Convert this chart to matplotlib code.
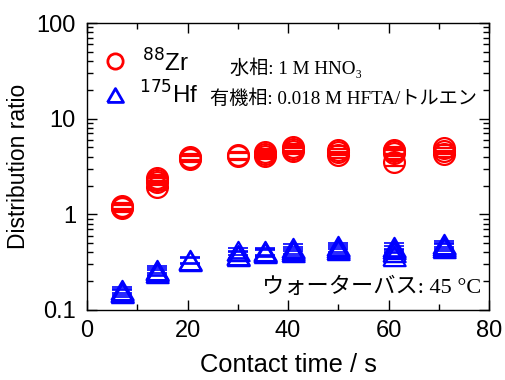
import numpy as np
import matplotlib
matplotlib.use("Agg")
import matplotlib.pyplot as plt

# contact time (s) and repeated runs at each time
times = [7, 14, 20.5, 30, 35.5, 41, 50, 61, 71]
zr_D = [[1.16, 1.20, 1.23],
        [1.95, 2.20, 2.30, 2.40],
        [3.80, 3.90, 4.00],
        [4.05, 4.15],
        [4.10, 4.30, 4.50],
        [4.60, 4.80, 5.00],
        [4.20, 4.50, 4.75],
        [3.50, 4.40, 4.60, 4.70],
        [4.30, 4.60, 4.90]]
hf_D = [[0.150, 0.155, 0.162],
        [0.245, 0.255, 0.265],
        [0.325, 0.335],
        [0.37, 0.38, 0.41],
        [0.39, 0.40, 0.41],
        [0.40, 0.42, 0.45],
        [0.42, 0.44, 0.47],
        [0.37, 0.40, 0.43, 0.46],
        [0.45, 0.47, 0.49]]
rel_err = 0.08

W, H = 505, 380
fig = plt.figure(figsize=(W / 100, H / 100), dpi=100)
ax = fig.add_axes([87 / W, 1 - 310 / H, (489 - 87) / W, (310 - 23) / H])

tri = [(-1, -0.866), (1, -0.866), (0, 0.866), (-1, -0.866)]

def flat(t, runs):
    x = []
    y = []
    for ti, r in zip(t, runs):
        for v in r:
            x.append(ti)
            y.append(v)
    return np.array(x), np.array(y)

xz, yz = flat(times, zr_D)
xh, yh = flat(times, hf_D)

ax.errorbar(xz, yz, yerr=rel_err * yz, fmt='o', ms=15, mfc='none', mec='red',
            mew=1.6, ecolor='red', elinewidth=0, capsize=7, capthick=1.2)
ax.errorbar(xh, yh, yerr=rel_err * yh, fmt='none', ecolor='blue', elinewidth=0,
            capsize=7.5, capthick=1.2)
ax.plot(xh, yh, ls='none', marker=tri, ms=16, mfc='none', mec='blue', mew=1.6)

ax.set_yscale('log')
ax.set_xlim(0, 80)
ax.set_ylim(0.1, 100)
ax.set_xticks([0, 20, 40, 60, 80])
ax.set_xticks([10, 30, 50, 70], minor=True)
ax.set_yticks([0.1, 1, 10, 100])
ax.set_yticklabels(['0.1', '1', '10', '100'])

sans = 'Liberation Sans'
for lab in ax.get_xticklabels() + ax.get_yticklabels():
    lab.set_family(sans)
    lab.set_fontsize(17)
ax.tick_params(which='both', direction='in', top=True, right=True, width=1.0)
ax.tick_params(which='major', length=7, pad=8)
ax.tick_params(axis='x', which='major', pad=7)
ax.tick_params(which='minor', length=4)
for s in ax.spines.values():
    s.set_linewidth(1.0)

ax.set_xlabel('Contact time / s', family=sans, fontsize=18.4, labelpad=8)
ax.set_ylabel('Distribution ratio', family=sans, fontsize=16.5, labelpad=5)

# legend-like labels
ax.plot([5.6], [40], ls='none', marker='o', ms=11, mfc='none', mec='red', mew=2,
        clip_on=False)
ax.plot([5.6], [17.5], ls='none', marker=tri, ms=11.5, mfc='none', mec='blue', mew=2,
        clip_on=False)
ax.text(10.9, 30.8, '$^{88}$Zr', family=sans, fontsize=17.5, va='baseline')
ax.text(10.3, 14.4, '$^{175}$Hf', family=sans, fontsize=17.5, va='baseline')

jp = ['Liberation Serif', 'Noto Sans CJK JP']
ax.text(28.5, 29.1, '水相: 1 M HNO₃', family=jp, fontsize=13.8, va='baseline')
ax.text(24.5, 14.4, '有機相: 0.018 M HFTA/トルエン', family=jp, fontsize=13.8,
        va='baseline')
ax.text(78.5, 0.15, 'ウォーターバス: 45 °C', family=jp, fontsize=16, ha='right',
        va='baseline')

fig.savefig('out.png', dpi=100)
